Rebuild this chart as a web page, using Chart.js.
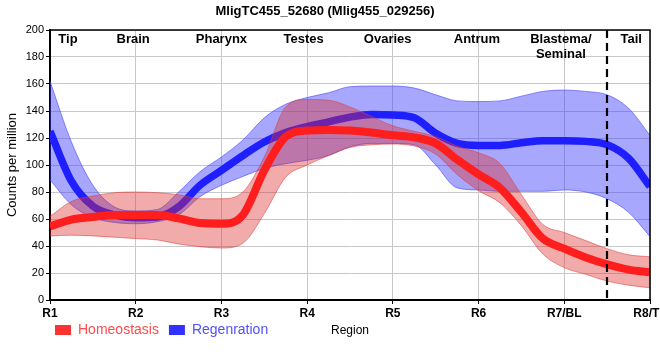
<!DOCTYPE html>
<html><head><meta charset="utf-8">
<script src="https://cdn.jsdelivr.net/npm/chart.js@4.4.1/dist/chart.umd.min.js"></script>
<style>html,body{margin:0;padding:0;background:#fff;}#wrap{width:660px;height:360px;}</style>
</head><body><div id="wrap"><canvas id="c" width="660" height="360"></canvas></div>
<script>
// ---- data ----
const chartTitle = 'MligTC455_52680 (Mlig455_029256)';
const xLabels = ['R1','R2','R3','R4','R5','R6','R7/BL','R8/TL'];
const regionNames = ['Tip','Brain','Pharynx','Testes','Ovaries','Antrum',['Blastema/','Seminal'],'Tail'];
const regionPos = [1.21, 1.97, 3.0, 3.96, 4.94, 5.98, 6.96, 7.78];
const tailBoundary = 7.5;
const samplePos = [1,1.25,1.5,1.75,2,2.25,2.5,2.75,3,3.25,3.5,3.75,4,4.25,4.5,4.75,5,5.25,5.5,5.75,6,6.25,6.5,6.75,7,7.25,7.5,7.75,8];
const homeoMean  = [54.5,59.5,61.5,63,63,63,60.5,57,56.5,63,96,121,125.5,126,125.5,124,122,120.5,116,104,93,83,65,45.5,38,31.5,26.5,22.5,20.5];
const homeoUpper = [62,73,77,79.5,80,79.5,78,75,75,80,106,143,148.5,148,143,136,129,125,121,114,109,101,78,56,50,44,38,33.5,32];
const homeoLower = [47.5,48,47.5,46.5,45.5,44.5,41.5,39.5,38.5,42,64,91,100,107,113,115,115.5,114,108,93,81,72,55,34,24,19,14,11,9];
const regenMean  = [125,88,69.5,63,61,61.5,69,85,96,107,117,124,128.5,132,135.5,137.5,137,135,123.5,116,114.5,114.5,116.5,118,118,117.5,115,105,84];
const regenUpper = [162,117,85,69,66,67,80,95,106,118.5,135,145,150,153.5,158,158.5,158.5,157,152,147.5,147,147.5,151,154.5,155.5,154.5,152,142,122];
const regenLower = [89,70.5,61,57.5,56.5,58,63,76.5,85,91.5,97.5,101,103.5,107,113.5,116,116,115,100,83,81.5,80.5,80.5,80.5,81.5,80,75,65,47];
const seriesNames = ['Homeostasis','Regenration'];

// ---- styles ----
const FONT = "'Liberation Sans', Arial, sans-serif";
const RED = 'rgb(255,30,30)', BLUE = 'rgb(30,30,255)';
const RED_BAND = 'rgba(222,45,45,0.40)', BLUE_BAND = 'rgba(60,60,250,0.45)';
const RED_EDGE = 'rgba(222,60,60,0.55)', BLUE_EDGE = 'rgba(70,70,255,0.6)';
const pts = arr => samplePos.map((x,i)=>({x:x, y:arr[i]}));
const common = {pointRadius:0, cubicInterpolationMode:'monotone'};

const datasets = [
  Object.assign({label:'hU', data:pts(homeoUpper), borderColor:RED_EDGE, borderWidth:1, backgroundColor:RED_BAND, fill:'+1', order:1}, common),
  Object.assign({label:'hL', data:pts(homeoLower), borderColor:RED_EDGE, borderWidth:1, fill:false, order:1}, common),
  Object.assign({label:seriesNames[0], data:pts(homeoMean), borderColor:RED, borderWidth:8, fill:false, order:0}, common),
  Object.assign({label:'rU', data:pts(regenUpper), borderColor:BLUE_EDGE, borderWidth:1, backgroundColor:BLUE_BAND, fill:'+1', order:3}, common),
  Object.assign({label:'rL', data:pts(regenLower), borderColor:BLUE_EDGE, borderWidth:1, fill:false, order:3}, common),
  Object.assign({label:seriesNames[1], data:pts(regenMean), borderColor:BLUE, borderWidth:7.5, fill:false, order:2}, common)
];

const overlay = {
  id:'overlay',
  afterLayout(chart){
    if (chart.legend) { chart.legend.left = chart.chartArea.left - 5; chart.legend.top = 313; }
  },
  afterDatasetsDraw(chart){
    const ctx = chart.ctx, a = chart.chartArea, xs = chart.scales.x;
    ctx.save();
    const dx = Math.round(xs.getPixelForValue(tailBoundary));
    ctx.strokeStyle = '#000'; ctx.lineWidth = 2.2; ctx.setLineDash([8,5]);
    ctx.beginPath(); ctx.moveTo(dx, a.top); ctx.lineTo(dx, a.bottom); ctx.stroke();
    ctx.setLineDash([]);
    ctx.lineWidth = 1.5;
    ctx.beginPath(); ctx.moveTo(a.left, a.top); ctx.lineTo(a.right, a.top); ctx.lineTo(a.right, a.bottom); ctx.stroke();
    ctx.restore();
  },
  afterDraw(chart){
    const ctx = chart.ctx, a = chart.chartArea, xs = chart.scales.x;
    ctx.save();
    ctx.fillStyle = '#000';
    ctx.font = 'bold 13px ' + FONT;
    ctx.textAlign = 'center'; ctx.textBaseline = 'middle';
    regionNames.forEach((n,i)=>{
      const px = xs.getPixelForValue(regionPos[i]);
      const lines = Array.isArray(n) ? n : [n];
      lines.forEach((t,j)=> ctx.fillText(t, px, a.top + 9.5 + j*15));
    });
    ctx.font = '12px ' + FONT;
    ctx.fillText('Region', (a.left + a.right)/2, 331);
    ctx.restore();
  }
};

new Chart(document.getElementById('c'), {
  type:'line',
  data:{datasets:datasets},
  plugins:[overlay],
  options:{
    responsive:false, animation:false,
    layout:{autoPadding:false, padding:{left:0, right:10, top:0.4, bottom:4}},
    plugins:{
      tooltip:{enabled:false},
      title:{display:true, text:chartTitle, color:'#000', font:{family:FONT, size:13, weight:'bold'}, padding:{top:3, bottom:11}},
      legend:{
        display:true, position:'bottom', align:'start', fullSize:false,
        labels:{
          boxWidth:16, boxHeight:10, padding:10,
          font:{family:FONT, size:14},
          generateLabels:()=>[
            {text:seriesNames[0], fillStyle:'rgb(255,50,50)', strokeStyle:'rgb(255,50,50)', lineWidth:0, fontColor:'rgb(255,75,75)', hidden:false, datasetIndex:2},
            {text:seriesNames[1], fillStyle:'rgb(50,50,255)', strokeStyle:'rgb(50,50,255)', lineWidth:0, fontColor:'rgb(80,80,255)', hidden:false, datasetIndex:5}
          ]
        }
      }
    },
    scales:{
      x:{
        type:'linear', min:1, max:8,
        afterFit(s){ s.height = 22; s.paddingRight = 0; s.paddingLeft = 0; },
        ticks:{stepSize:1, autoSkip:false, maxRotation:0, padding:2, color:'#000', font:{family:FONT, size:12, weight:'bold'},
          callback:(v)=> Number.isInteger(v) ? xLabels[v-1] : ''},
        grid:{color:'#c8c8c8', lineWidth:1, tickLength:4, tickColor:'#000'},
        border:{color:'#000', width:2}
      },
      y:{
        min:0, max:200,
        afterFit(s){ s.width = 50; s.paddingTop = 0; s.paddingBottom = 0; },
        ticks:{stepSize:20, padding:2, color:'#000', font:{family:FONT, size:11}},
        grid:{color:'#c8c8c8', lineWidth:1, tickLength:4, tickColor:'#000'},
        border:{color:'#000', width:2},
        title:{display:true, text:'Counts per million', color:'#000', font:{family:FONT, size:13}, padding:{top:5, bottom:0}}
      }
    }
  }
});
</script>
</body></html>
